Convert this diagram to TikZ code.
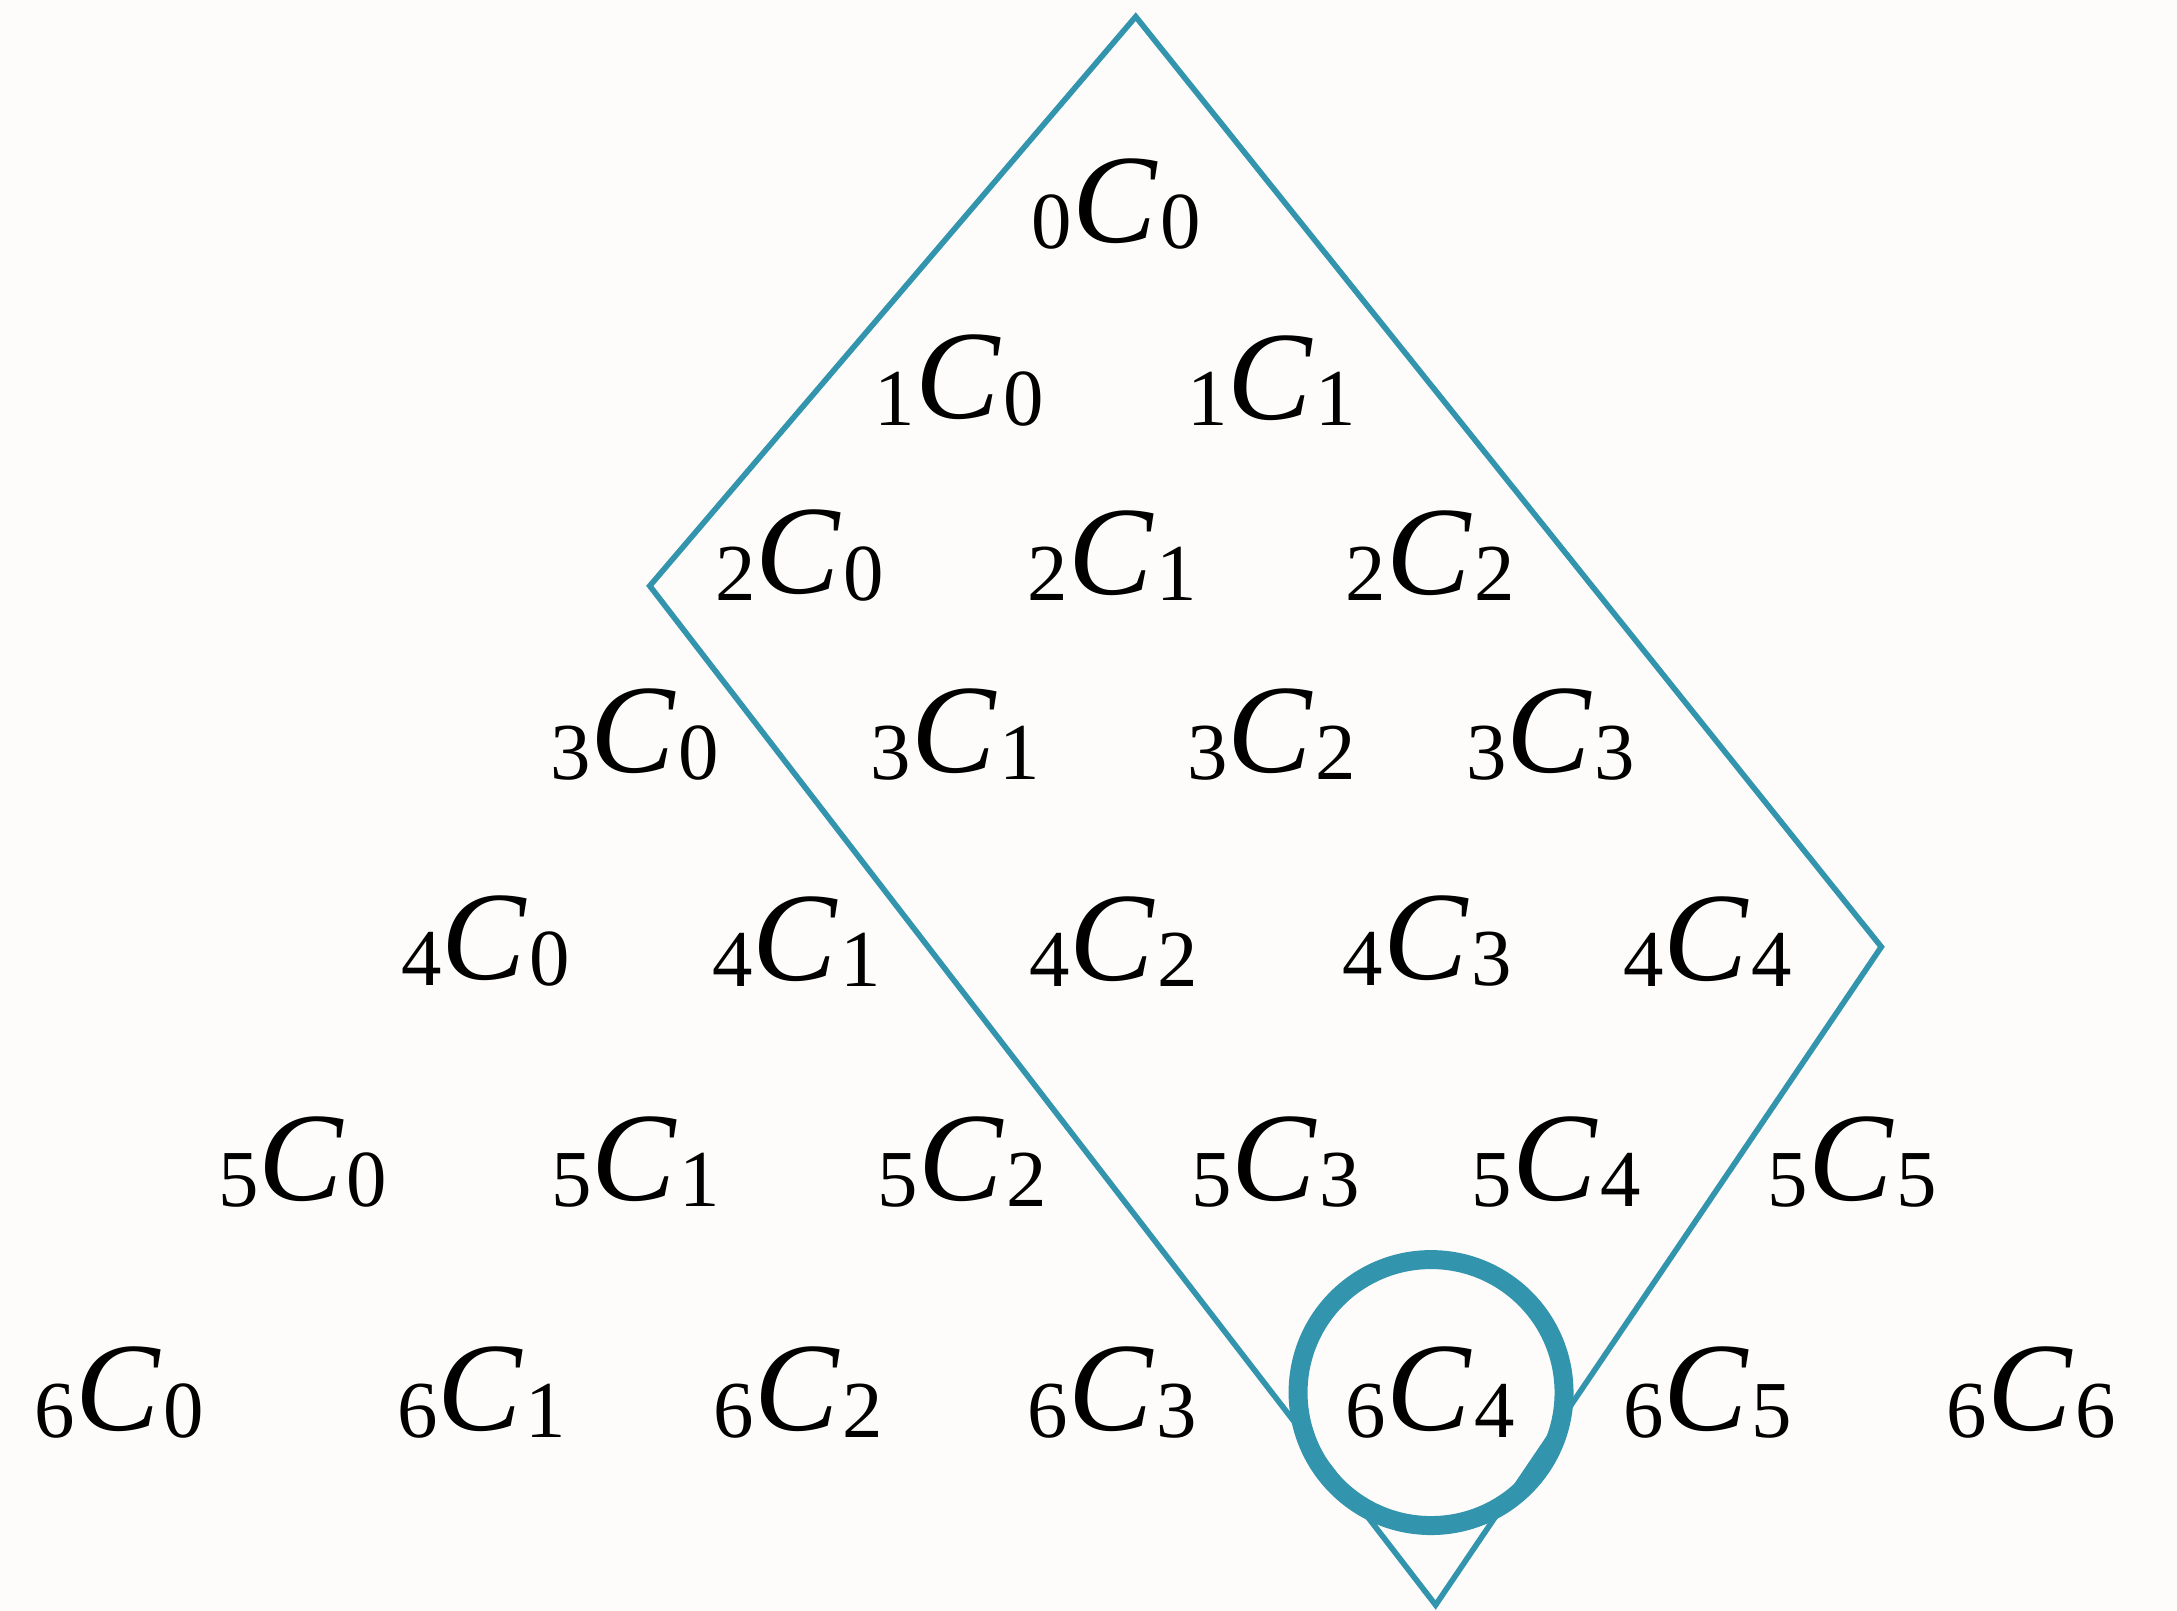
\documentclass[tikz,border=0pt]{standalone}
\usepackage{fontspec}
\setmainfont{Liberation Serif}
\usetikzlibrary{positioning}
\definecolor{rim}{RGB}{50,148,173}
\definecolor{paper}{RGB}{253,252,250}
% n C r with both indices set small
\newcommand\ncr[2]{%
  \raisebox{-0.05em}{\fontsize{23}{24}\selectfont #1}%
  \textit{C}\kern0.02em%
  \raisebox{-0.05em}{\fontsize{23}{24}\selectfont #2}}

\begin{document}
\begin{tikzpicture}[
  x=0.013884cm, y=-0.013884cm,
  entry/.style={inner sep=0pt, font=\fontsize{36}{40}\selectfont},
  frame/.style={draw=rim, line width=1.6pt, line join=miter},
  ring/.style={draw=rim, line width=5.4pt},
]
\fill[paper] (0,0) rectangle (1568,1160);
\useasboundingbox (0,0) rectangle (1568,1160);
% entries of the triangle
\foreach \n/\k/\x/\y in {
  0/0/804/147,
  1/0/691/274, 1/1/916/274,
  2/0/576/400, 2/1/801/400, 2/2/1030/400,
  3/0/457/529, 3/1/688/529, 3/2/916/529, 3/3/1117/529,
  4/0/350/678, 4/1/574/678, 4/2/802/678, 4/3/1028/678, 4/4/1230/678,
  5/0/218/837, 5/1/458/837, 5/2/693/837, 5/3/919/837, 5/4/1121/837, 5/5/1334/837,
  6/0/86/1003, 6/1/347/1003, 6/2/575/1003, 6/3/801/1003, 6/4/1030/1003,
  6/5/1230/1003, 6/6/1463/1003}
  \node[entry] (c\n\k) at (\x,\y) {\ncr{\n}{\k}};
% the rhombus
\coordinate (top) at (818,12);
\coordinate (left) at (468,422);
\coordinate (right) at (1355,682);
\coordinate (bottom) at (1034,1156);
\draw[frame] (top) -- (right) -- (bottom) -- (left) -- cycle;
% highlighted entry
\draw[ring] ([xshift=0.01cm]c64.center) circle[radius=1.33cm];
\end{tikzpicture}
\end{document}
